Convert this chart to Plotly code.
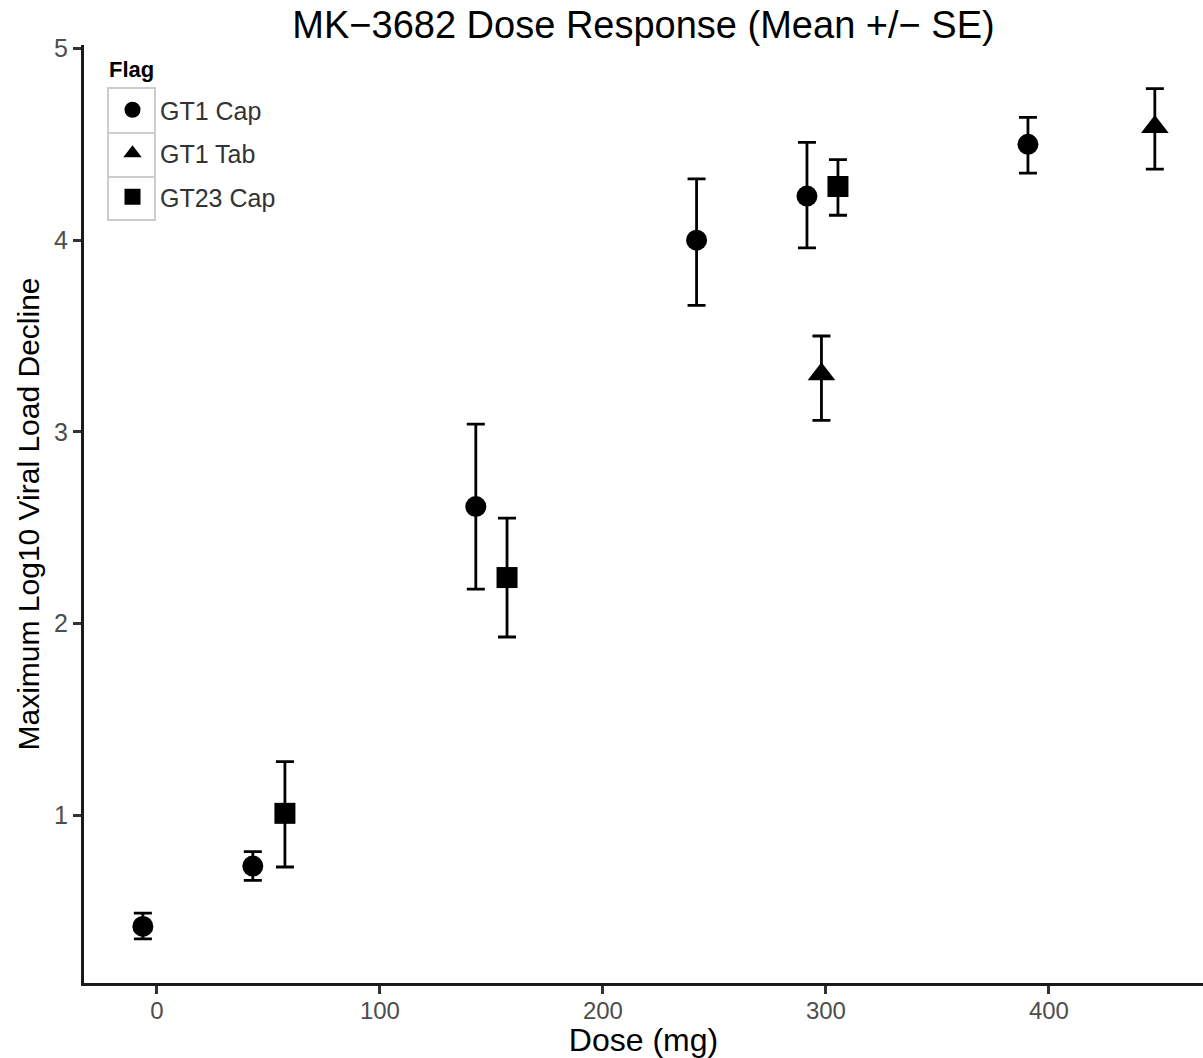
import plotly.graph_objects as go

# Mean maximum log10 viral-load decline by dose, with SE bounds
flags = ["GT1 Cap", "GT1 Tab", "GT23 Cap"]
symbols = {"GT1 Cap": "circle", "GT1 Tab": "triangle-up", "GT23 Cap": "square"}
sizes = {"GT1 Cap": 21, "GT1 Tab": 24, "GT23 Cap": 21}

gt1_cap_dose = [-6.3, 43.0, 143.0, 242.0, 291.5, 390.6]
gt1_cap_mean = [0.42, 0.735, 2.61, 4.00, 4.23, 4.50]
gt1_cap_upper = [0.49, 0.81, 3.04, 4.32, 4.51, 4.64]
gt1_cap_lower = [0.355, 0.66, 2.18, 3.66, 3.96, 4.35]

gt1_tab_dose = [298.0, 447.5]
gt1_tab_mean = [3.30, 4.59]
gt1_tab_upper = [3.50, 4.79]
gt1_tab_lower = [3.06, 4.37]

gt23_cap_dose = [57.4, 157.0, 305.4]
gt23_cap_mean = [1.01, 2.24, 4.28]
gt23_cap_upper = [1.28, 2.55, 4.42]
gt23_cap_lower = [0.73, 1.93, 4.13]

series = {
    "GT1 Cap": (gt1_cap_dose, gt1_cap_mean, gt1_cap_upper, gt1_cap_lower),
    "GT1 Tab": (gt1_tab_dose, gt1_tab_mean, gt1_tab_upper, gt1_tab_lower),
    "GT23 Cap": (gt23_cap_dose, gt23_cap_mean, gt23_cap_upper, gt23_cap_lower),
}

x_ticks = [0, 100, 200, 300, 400]
y_ticks = [1, 2, 3, 4, 5]

fig = go.Figure()
for name in flags:
    dose, mean, upper, lower = series[name]
    fig.add_trace(go.Scatter(
        x=dose, y=mean, mode="markers", name=name, legendgroup=name,
        marker=dict(symbol=symbols[name], size=sizes[name], color="black"),
        error_y=dict(
            type="data", symmetric=False,
            array=[u - m for u, m in zip(upper, mean)],
            arrayminus=[m - l for m, l in zip(mean, lower)],
            color="black", thickness=2.8, width=9,
        ),
    ))

W, H = 1203, 1058
ml, mr, mt, mb = 84, 0, 45, 75
plot_w, plot_h = W - ml - mr, H - mt - mb


def px_x(px):
    return (px - ml) / plot_w


def px_y(py):
    return (H - mb - py) / plot_h


# light grey key boxes behind the legend symbols
key_edges = [88, 133, 177, 220]
shapes = [
    dict(type="rect", xref="paper", yref="paper",
         x0=px_x(108), x1=px_x(155), y0=px_y(key_edges[i + 1]), y1=px_y(key_edges[i]),
         line=dict(color="#cccccc", width=2), fillcolor="rgba(0,0,0,0)", layer="below")
    for i in range(len(flags))
]

fig.update_layout(
    width=W, height=H,
    margin=dict(l=ml, r=mr, t=mt, b=mb),
    paper_bgcolor="white", plot_bgcolor="white",
    font=dict(family="Liberation Sans, Arial, sans-serif", color="#333333"),
    title=dict(
        text="MK\u22123682 Dose Response (Mean +/\u2212 SE)",
        x=(ml + W) / 2 / W, xanchor="center", y=1 - 25 / H, yanchor="middle",
        font=dict(size=38, color="black"),
    ),
    shapes=shapes,
    annotations=[dict(
        text="<b>Flag</b>", xref="paper", yref="paper", x=px_x(107), y=px_y(70),
        xanchor="left", yanchor="middle", showarrow=False,
        font=dict(size=22, color="black"),
    )],
    showlegend=True,
    legend=dict(
        x=px_x(105), y=px_y(87), xanchor="left", yanchor="top",
        bgcolor="rgba(0,0,0,0)",
        font=dict(size=25, color="#333333"),
        tracegroupgap=8,
        itemwidth=45,
        itemsizing="trace",
    ),
    xaxis=dict(
        range=[-32.7, 469.1], tickvals=x_ticks, ticktext=[str(v) for v in x_ticks],
        showgrid=False, zeroline=False, showline=True, linecolor="#1a1a1a", linewidth=3,
        ticks="outside", ticklen=8, tickwidth=2.5, tickcolor="#333333",
        tickfont=dict(size=24, color="#4d4d4d"), ticklabelstandoff=-4,
        title=dict(text="Dose (mg)", font=dict(size=32, color="black"), standoff=2),
    ),
    yaxis=dict(
        range=[0.125, 5.018], tickvals=y_ticks, ticktext=[str(v) for v in y_ticks],
        showgrid=False, zeroline=False, showline=True, linecolor="#1a1a1a", linewidth=3,
        ticks="outside", ticklen=8, tickwidth=2.5, tickcolor="#333333",
        tickfont=dict(size=25, color="#4d4d4d"),
        title=dict(text="Maximum Log10 Viral Load Decline", font=dict(size=30, color="black"), standoff=6),
    ),
)

fig.write_html("out.html")
